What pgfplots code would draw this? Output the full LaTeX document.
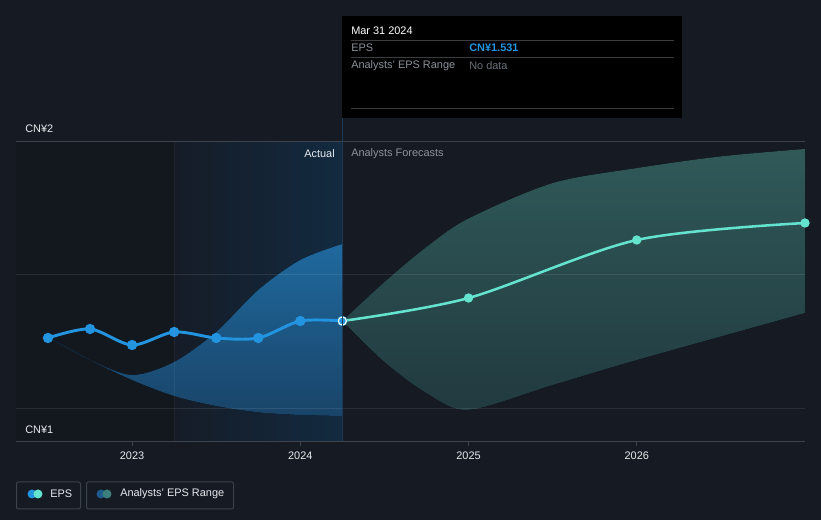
\documentclass[border=0pt]{standalone}
\usepackage{pgfplots}
\pgfplotsset{compat=1.18}
\usepgfplotslibrary{fillbetween}
\usepackage{fontspec}
\setmainfont{Liberation Sans}

\definecolor{bg}{HTML}{151A23}
\definecolor{darkband}{HTML}{13171E}
\definecolor{hlL}{HTML}{151C27}
\definecolor{hlR}{HTML}{132A40}
\definecolor{edge}{HTML}{1C3A57}
\definecolor{blueTop}{HTML}{1F699E}
\definecolor{blueBot}{HTML}{194468}
\definecolor{tealTop}{HTML}{305958}
\definecolor{tealBot}{HTML}{213A40}
\definecolor{epsblue}{HTML}{2394DF}
\definecolor{fcteal}{HTML}{64E3CF}
\definecolor{txt}{HTML}{E8EAED}
\definecolor{grey}{HTML}{8C929A}
\definecolor{dim}{HTML}{6B7078}
\definecolor{axisgray}{HTML}{3E444E}
\definecolor{boxline}{HTML}{3C424C}
\definecolor{sep}{HTML}{3A3C40}
\definecolor{legblue}{HTML}{1F5C8C}
\definecolor{legteal}{HTML}{3D7F7C}

% axis box maps onto 25bp..75bp of the shading: dark band, last-year highlight, plain
\pgfdeclarehorizontalshading{periods}{100bp}{
    color(0bp)=(darkband); color(35.01bp)=(darkband);
    color(35.02bp)=(hlL); color(45.71bp)=(hlR);
    color(45.72bp)=(bg); color(100bp)=(bg)}

\pagecolor{bg}

\begin{document}
\begin{tikzpicture}[font=\fontsize{8.2}{10}\selectfont]
% page is 821x520 px, 1px = 0.75pt
\path (0,0) rectangle (615.75pt,390pt);

\begin{axis}[
    at={(12pt,58.5pt)}, anchor=south west,
    scale only axis, width=591.75pt, height=225pt,
    xmin=2022.31, xmax=2027, ymin=1, ymax=2,
    axis background/.style={shading=periods},
    axis x line*=bottom, axis y line=none,
    x axis line style={axisgray, line width=0.75pt},
    xtick={2023,2024,2025,2026},
    xticklabels={2023,2024,2025,2026},
    xticklabel style={txt, font=\fontsize{8.2}{10}\selectfont, yshift=-1pt},
    tick style={axisgray, line width=0.75pt},
    major tick length=3pt, tick align=outside,
    ytick=\empty,
    clip=true]

% analysts' range in the past year
\addplot[draw=none, smooth, name path=pu] coordinates {
    (2022.5,1.3500) (2022.75,1.2733) (2023.0,1.2233) (2023.25,1.2667)
    (2023.5,1.3667) (2023.75,1.5067) (2024.0,1.6067) (2024.25,1.6600)};
\addplot[draw=none, smooth, name path=pl] coordinates {
    (2022.5,1.3500) (2022.75,1.2733) (2023.0,1.2067) (2023.25,1.1533)
    (2023.5,1.1200) (2023.75,1.0990) (2024.0,1.0900) (2024.25,1.0867)};
\addplot[top color=blueTop, bottom color=blueBot, draw=none] fill between[of=pu and pl];

% analysts' forecast range
\addplot[draw=none, smooth, name path=fu] coordinates {
    (2024.25,1.4033) (2024.5,1.5330) (2024.75,1.6500) (2025.0,1.7450)
    (2025.5,1.8630) (2026.0,1.9130) (2026.5,1.9520) (2027.0,1.9767)};
\addplot[draw=none, smooth, name path=fl] coordinates {
    (2024.25,1.4033) (2024.5,1.2670) (2024.75,1.1630) (2025.0,1.1070)
    (2025.5,1.1900) (2026.0,1.2733) (2027.0,1.4300)};
\addplot[top color=tealTop, bottom color=tealBot, draw=none] fill between[of=fu and fl];

% grid lines
\draw[white, opacity=0.09, line width=0.75pt] (2022.31,1.5567) -- (2027,1.5567);
\draw[white, opacity=0.09, line width=0.75pt] (2022.31,1.11) -- (2027,1.11);

% EPS
\addplot[epsblue, line width=2.2pt, smooth,
    mark=*, mark size=2.7pt, mark options={fill=epsblue, draw=none}] coordinates {
    (2022.5,1.3467) (2022.75,1.3767) (2023.0,1.3233) (2023.25,1.3667)
    (2023.5,1.3467) (2023.75,1.3467) (2024.0,1.4033) (2024.25,1.4033)};
\addplot[fcteal, line width=1.9pt, smooth,
    mark=*, mark size=2.5pt, mark options={fill=fcteal, draw=none}] coordinates {
    (2024.25,1.4033) (2025.0,1.4800) (2026.0,1.6733) (2027.0,1.7300)};
\addplot[only marks, mark=*, mark size=3pt,
    mark options={fill=epsblue, draw=white, line width=0.8pt}] coordinates {
    (2024.25,1.4033)};
\end{axis}

\begin{scope}[x=0.75pt,y=0.75pt]
% faint edge of the highlighted year, top grid line and y labels
\draw[white, opacity=0.05, line width=0.75pt] (174,79) -- (174,378);
\draw[axisgray, line width=0.75pt] (16,378) -- (805,378);
\node[anchor=west, inner sep=0, txt] at (25,391) {CN¥2};
\node[anchor=west, inner sep=0, txt] at (25,90) {CN¥1};

% divider between actual and forecast
\draw[edge, line width=0.75pt] (342.5,403) -- (342.5,79);
\node[anchor=east, inner sep=0, txt] at (335,366) {Actual};
\node[anchor=west, inner sep=0, grey] at (351,366) {Analysts Forecasts};

% tooltip
\fill[black] (342,402) rectangle (682,504);
\draw[sep, line width=0.75pt] (351,479) -- (674,479);
\draw[sep, line width=0.75pt] (351,462) -- (674,462);
\draw[sep, line width=0.75pt] (351,411) -- (674,411);
\node[anchor=west, inner sep=0, white] at (351,489) {Mar 31 2024};
\node[anchor=west, inner sep=0, grey] at (351,472) {EPS};
\node[anchor=west, inner sep=0, epsblue] at (469,472) {\bfseries CN¥1.531};
\node[anchor=west, inner sep=0, grey] at (351,454) {Analysts' EPS Range};
\node[anchor=west, inner sep=0, dim] at (469,454) {No data};

% legend
\draw[boxline, line width=0.75pt, rounded corners=1.5pt] (16.5,38) rectangle (80.5,11);
\fill[epsblue] (32,26) circle (4.5);
\fill[fcteal] (38,26) circle (4.5);
\node[anchor=west, inner sep=0, txt] at (50,26) {EPS};
\draw[boxline, line width=0.75pt, rounded corners=1.5pt] (86.5,38) rectangle (233.5,11);
\fill[legblue] (101,26) circle (4.5);
\fill[legteal] (107,26) circle (4.5);
\node[anchor=west, inner sep=0, txt] at (120,26) {Analysts' EPS Range};
\end{scope}
\end{tikzpicture}
\end{document}
